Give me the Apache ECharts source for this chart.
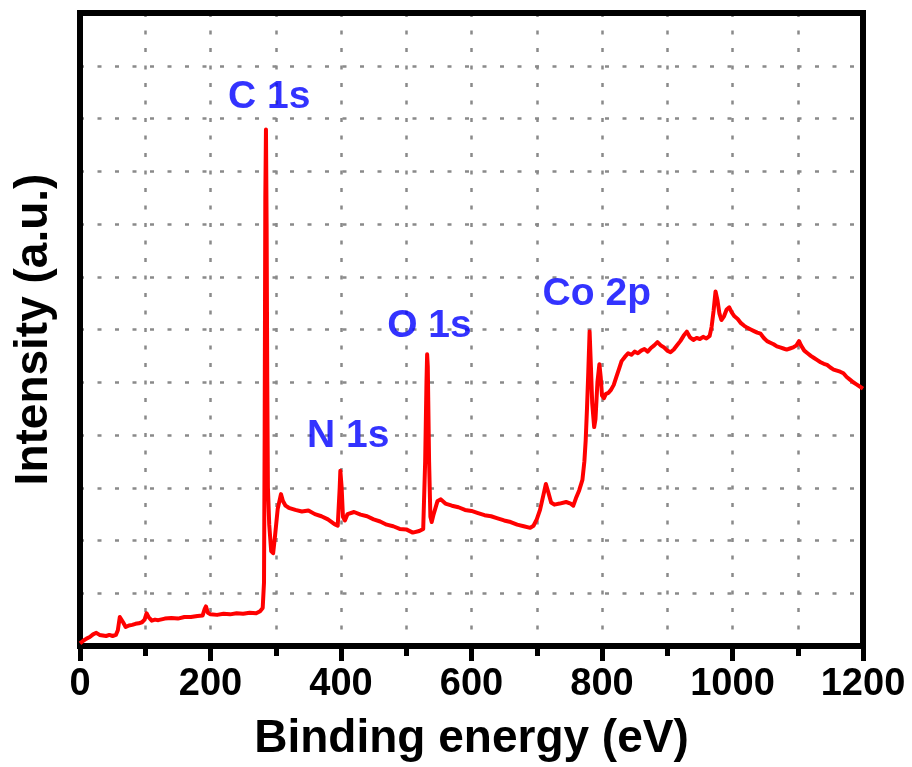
<!DOCTYPE html>
<html>
<head>
<meta charset="utf-8">
<title>XPS survey spectrum</title>
<script src="https://cdn.jsdelivr.net/npm/echarts@6/dist/echarts.min.js"></script>
<style>
  html, body { margin: 0; padding: 0; background: #ffffff; }
  #chart { width: 912px; height: 767px; }
</style>
</head>
<body>
<div id="chart"></div>
<script>
// Survey spectrum: binding energy (eV) and intensity (arbitrary units)
const energy = [
  0, 5, 10, 15, 20, 25, 30, 35, 40, 45, 50, 55, 58, 61, 63, 66, 70, 75, 80, 85,
  90, 95, 99, 102, 105, 110, 115, 120, 130, 140, 150, 160, 170, 180, 188, 191, 193, 196, 200, 210,
  220, 230, 240, 250, 260, 270, 276, 280, 282, 283, 284, 285, 286, 287, 288, 290, 293, 296, 299, 303,
  308, 311, 315, 320, 330, 340, 350, 360, 370, 380, 390, 395, 398, 399, 401, 403, 406, 410, 420, 430,
  440, 450, 460, 470, 480, 490, 500, 510, 520, 526, 529, 531, 532, 533, 535, 537, 539, 542, 548, 553,
  560, 570, 580, 590, 600, 610, 620, 630, 640, 650, 660, 670, 680, 690, 695, 700, 705, 710, 714, 718,
  722, 727, 735, 745, 752, 756, 760, 765, 770, 773, 775, 777, 779, 781, 783, 785, 788, 790, 793, 796,
  798, 800, 803, 806, 810, 814, 818, 822, 826, 830, 835, 840, 845, 850, 855, 860, 865, 870, 875, 880,
  885, 890, 895, 900, 905, 910, 915, 920, 925, 930, 935, 940, 945, 950, 955, 960, 965, 968, 971, 974,
  977, 980, 983, 987, 991, 995, 999, 1003, 1008, 1013, 1018, 1023, 1028, 1033, 1038, 1043, 1048, 1053, 1058, 1063,
  1068, 1073, 1078, 1083, 1088, 1093, 1098, 1102, 1105, 1110, 1115, 1120, 1125, 1130, 1135, 1140, 1145, 1150, 1155, 1160,
  1165, 1170, 1175, 1180, 1185, 1190, 1195, 1200
];
const intensity = [
  0.05, 0.10, 0.14, 0.17, 0.22, 0.25, 0.21, 0.20, 0.19, 0.21, 0.19, 0.21, 0.30, 0.55, 0.58, 0.45, 0.36, 0.39, 0.40, 0.42,
  0.43, 0.45, 0.50, 0.62, 0.55, 0.48, 0.50, 0.49, 0.52, 0.53, 0.52, 0.55, 0.55, 0.57, 0.58, 0.70, 0.75, 0.63, 0.60, 0.59,
  0.61, 0.60, 0.62, 0.61, 0.63, 0.62, 0.66, 0.72, 1.20, 4.00, 8.50, 9.79, 8.00, 5.00, 3.00, 2.30, 1.80, 1.76, 2.10, 2.60,
  2.88, 2.75, 2.66, 2.62, 2.58, 2.55, 2.57, 2.50, 2.46, 2.40, 2.31, 2.28, 3.00, 3.32, 3.00, 2.45, 2.38, 2.50, 2.54, 2.49,
  2.46, 2.40, 2.36, 2.30, 2.27, 2.22, 2.21, 2.15, 2.18, 2.22, 3.50, 5.00, 5.53, 5.30, 3.50, 2.45, 2.35, 2.50, 2.75, 2.78,
  2.70, 2.66, 2.63, 2.58, 2.56, 2.52, 2.48, 2.46, 2.42, 2.38, 2.35, 2.30, 2.27, 2.24, 2.28, 2.40, 2.58, 2.85, 3.07, 2.90,
  2.72, 2.68, 2.70, 2.73, 2.70, 2.66, 2.80, 2.95, 3.15, 3.50, 3.90, 4.50, 5.20, 5.96, 5.30, 4.60, 4.15, 4.30, 5.00, 5.34,
  5.10, 4.75, 4.70, 4.78, 4.80, 4.86, 4.95, 5.10, 5.25, 5.40, 5.48, 5.55, 5.52, 5.58, 5.55, 5.60, 5.63, 5.58, 5.65, 5.70,
  5.76, 5.70, 5.66, 5.60, 5.57, 5.62, 5.70, 5.78, 5.88, 5.96, 5.85, 5.80, 5.84, 5.82, 5.86, 5.83, 5.88, 6.05, 6.35, 6.72,
  6.55, 6.30, 6.18, 6.25, 6.38, 6.42, 6.32, 6.25, 6.20, 6.12, 6.07, 6.03, 6.00, 5.97, 5.94, 5.92, 5.84, 5.78, 5.75, 5.72,
  5.68, 5.66, 5.64, 5.62, 5.64, 5.66, 5.70, 5.78, 5.70, 5.60, 5.55, 5.50, 5.46, 5.42, 5.38, 5.35, 5.33, 5.28, 5.24, 5.22,
  5.20, 5.17, 5.10, 5.05, 5.00, 4.96, 4.92, 4.88
];

// Peak annotations: text and where it sits in data space
const peakNames = ['C 1s', 'N 1s', 'O 1s', 'Co 2p'];
const peakLabelX = [290, 411, 535.5, 792];
const peakLabelY = [10.41, 3.97, 6.06, 6.66];

// Axis ranges
const xMin = 0, xMax = 1200, xStep = 200;
const yMin = 0, yMax = 12, yStep = 1;

const FONT = '"Liberation Sans", Arial, sans-serif';
const gridDots = { color: '#8a8a8a', width: 2.5, type: [4, 13.5] };

const spectrum = energy.map((e, i) => [e, intensity[i]]);
const labelPoints = peakNames.map((n, i) => ({ name: n, value: [peakLabelX[i], peakLabelY[i]] }));

function frameLine() {
  return { show: true, onZero: false, lineStyle: { color: '#000000', width: 6 } };
}

const chart = echarts.init(document.getElementById('chart'), null, { renderer: 'canvas' });
chart.setOption({
  backgroundColor: '#ffffff',
  animation: false,
  grid: {
    left: 80, right: 49, top: 13, bottom: 120,
    show: true, borderColor: '#000000', borderWidth: 6, backgroundColor: 'transparent'
  },
  xAxis: [
    {
      type: 'value', position: 'bottom', min: xMin, max: xMax, interval: xStep,
      name: 'Binding energy (eV)', nameLocation: 'middle', nameGap: 70,
      nameTextStyle: { fontFamily: FONT, fontWeight: 'bold', fontSize: 46, color: '#000' },
      axisLine: frameLine(),
      axisTick: { show: true, length: 15, lineStyle: { color: '#000000', width: 5 } },
      minorTick: { show: true, splitNumber: 2, length: 10, lineStyle: { color: '#000000', width: 5 } },
      axisLabel: {
        show: true, margin: 20, fontFamily: FONT, fontWeight: 'bold', fontSize: 38, color: '#000',
        formatter: v => String(v)
      },
      splitLine: { show: true, lineStyle: gridDots },
      minorSplitLine: { show: true, lineStyle: gridDots }
    },
    {
      type: 'value', position: 'top', min: xMin, max: xMax, interval: xStep,
      axisLine: frameLine(),
      axisTick: { show: false }, minorTick: { show: false },
      axisLabel: { show: false }, splitLine: { show: false }
    }
  ],
  yAxis: [
    {
      type: 'value', position: 'left', min: yMin, max: yMax, interval: yStep,
      name: 'Intensity (a.u.)', nameLocation: 'middle', nameGap: 23,
      nameTextStyle: { fontFamily: FONT, fontWeight: 'bold', fontSize: 46, color: '#000' },
      axisLine: frameLine(),
      axisTick: { show: false },
      axisLabel: { show: false },
      splitLine: { show: true, lineStyle: gridDots }
    },
    {
      type: 'value', position: 'right', min: yMin, max: yMax, interval: yStep,
      axisLine: frameLine(),
      axisTick: { show: false }, axisLabel: { show: false }, splitLine: { show: false }
    }
  ],
  series: [
    {
      type: 'line',
      data: spectrum,
      showSymbol: false,
      symbol: 'none',
      lineStyle: { color: '#ff0000', width: 4, join: 'round' },
      z: 3
    },
    {
      type: 'scatter',
      data: labelPoints,
      symbolSize: 0,
      silent: true,
      label: {
        show: true, position: 'inside', formatter: '{b}',
        fontFamily: FONT, fontWeight: 'bold', fontSize: 39, color: '#0000ff'
      },
      z: 4
    }
  ]
});
</script>
</body>
</html>
